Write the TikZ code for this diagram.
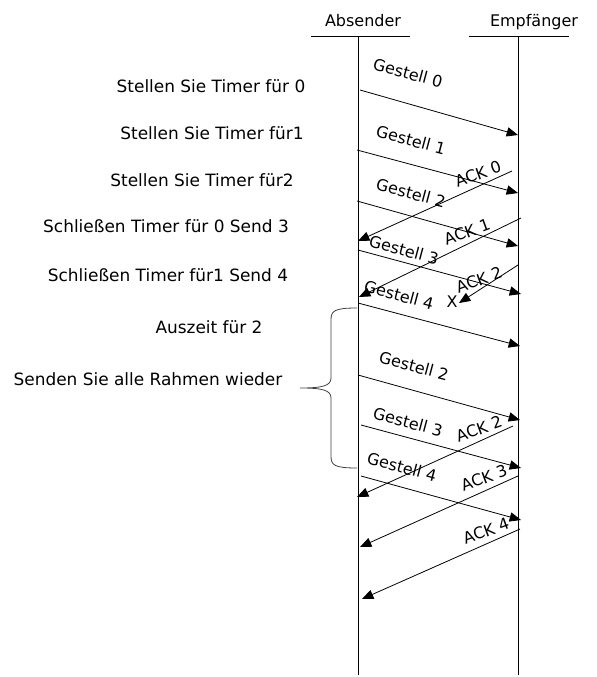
\documentclass[tikz,border=0pt]{standalone}
\usepackage{fontspec}
\setmainfont{DejaVu Sans}
\usetikzlibrary{arrows.meta}

\tikzset{
  msg/.style={draw, line width=0.6pt, -{Triangle[length=8.5pt,width=7pt]}},
  lifeline/.style={draw, line width=0.7pt},
}

\begin{document}
\begin{tikzpicture}[x=0.75pt,y=-0.75pt,font=\fontsize{12}{14}\selectfont]
  \useasboundingbox (0,0) rectangle (596,677);

      % lifelines
      \coordinate (sa) at (311,36);  \coordinate (sb) at (410,36);
      \coordinate (ra) at (469,36);  \coordinate (rb) at (569,36);
      \coordinate (st) at (358,36);  \coordinate (sz) at (358,675);
      \coordinate (rt) at (518,36);  \coordinate (rz) at (518,675);

      \begin{scope}[every node/.style={anchor=base}]
        \node (snd) at (363,27) {Absender};
        \node (rcv) at (534,27) {Empfänger};
      \end{scope}

      \path[lifeline] (sa) -- (sb);
      \path[lifeline] (ra) -- (rb);
      \path[lifeline] (st) -- (sz);
      \path[lifeline] (rt) -- (rz);

      % message end points
      \coordinate (g0a) at (360,90);  \coordinate (g0b) at (518,135);
      \coordinate (g1a) at (357,150); \coordinate (g1b) at (518,193);
      \coordinate (k0a) at (512,171); \coordinate (k0b) at (358,241);
      \coordinate (g2a) at (357,201); \coordinate (g2b) at (518,246);
      \coordinate (k1a) at (521,218); \coordinate (k1b) at (359,297);
      \coordinate (g3a) at (358,250); \coordinate (g3b) at (521,294);
      \coordinate (k2a) at (518,265); \coordinate (k2b) at (459,303);
      \coordinate (g4a) at (358,303); \coordinate (g4b) at (520,346);
      \coordinate (h2a) at (358,375); \coordinate (h2b) at (520,420);
      \coordinate (h3a) at (361,425); \coordinate (h3b) at (521,468);
      \coordinate (j2a) at (513,426); \coordinate (j2b) at (357,497);
      \coordinate (h4a) at (361,476); \coordinate (h4b) at (521,520);
      \coordinate (k3a) at (518,476); \coordinate (k3b) at (360,547);
      \coordinate (k4a) at (520,529); \coordinate (k4b) at (362,599);

      \path[msg] (g0a) -- (g0b);
      \path[msg] (g1a) -- (g1b);
      \path[msg] (k0a) -- (k0b);
      \path[msg] (g2a) -- (g2b);
      \path[msg] (k1a) -- (k1b);
      \path[msg] (g3a) -- (g3b);
      \path[msg] (k2a) -- (k2b);
      \path[msg] (g4a) -- (g4b);
      \path[msg] (h2a) -- (h2b);
      \path[msg] (h3a) -- (h3b);
      \path[msg] (j2a) -- (j2b);
      \path[msg] (h4a) -- (h4b);
      \path[msg] (k3a) -- (k3b);
      \path[msg] (k4a) -- (k4b);

      % frame labels
      \begin{scope}[every node/.style={rotate=-15}]
        \node (l0) at (408,73)  {Gestell 0};
        \node (l1) at (411,140) {Gestell 1};
        \node (l2) at (411,193) {Gestell 2};
        \node (l3) at (404,250) {Gestell 3};
        \node (l4) at (399,295) {Gestell 4};
        \node (m2) at (414,366) {Gestell 2};
        \node (m3) at (408,422) {Gestell 3};
        \node (m4) at (402,467) {Gestell 4};
      \end{scope}

      \begin{scope}[every node/.style={rotate=20}]
        \node (a0) at (478,174) {ACK 0};
        \node (a1) at (467,232) {ACK 1};
        \node (a2) at (479,280) {ACK 2};
        \node (b2) at (479,429) {ACK 2};
        \node (a3) at (484,478) {ACK 3};
        \node (a4) at (486,531) {ACK 4};
      \end{scope}

      \node (lost) at (452,302) {X};

      % sender notes
      \begin{scope}[every node/.style={anchor=base,font=\fontsize{12.7}{15}\selectfont}]
        \node (n0) at (211,93)  {Stellen Sie Timer für 0};
        \node (n1) at (212,140) {Stellen Sie Timer für1};
        \node (n2) at (202,187) {Stellen Sie Timer für2};
        \node (n3) at (166,233) {Schließen Timer für 0 Send 3};
        \node (n4) at (168,281) {Schließen Timer für1 Send 4};
        \node (n5) at (209,333) {Auszeit für 2};
        \node (n6) at (148,385) {Senden Sie alle Rahmen wieder};
      \end{scope}

      % brace
      \coordinate (bt) at (357,308);
      \coordinate (bm) at (300,388);
      \coordinate (bb) at (357,468);
      \draw[black!75, line width=0.6pt] (bt) .. controls (334,308) and (331,311) .. (331,320)
        -- (331,378) .. controls (331,386) and (322,388) .. (bm)
        .. controls (322,388) and (331,390) .. (331,398)
        -- (331,456) .. controls (331,465) and (334,468) .. (bb);

    \end{tikzpicture}
\end{document}
